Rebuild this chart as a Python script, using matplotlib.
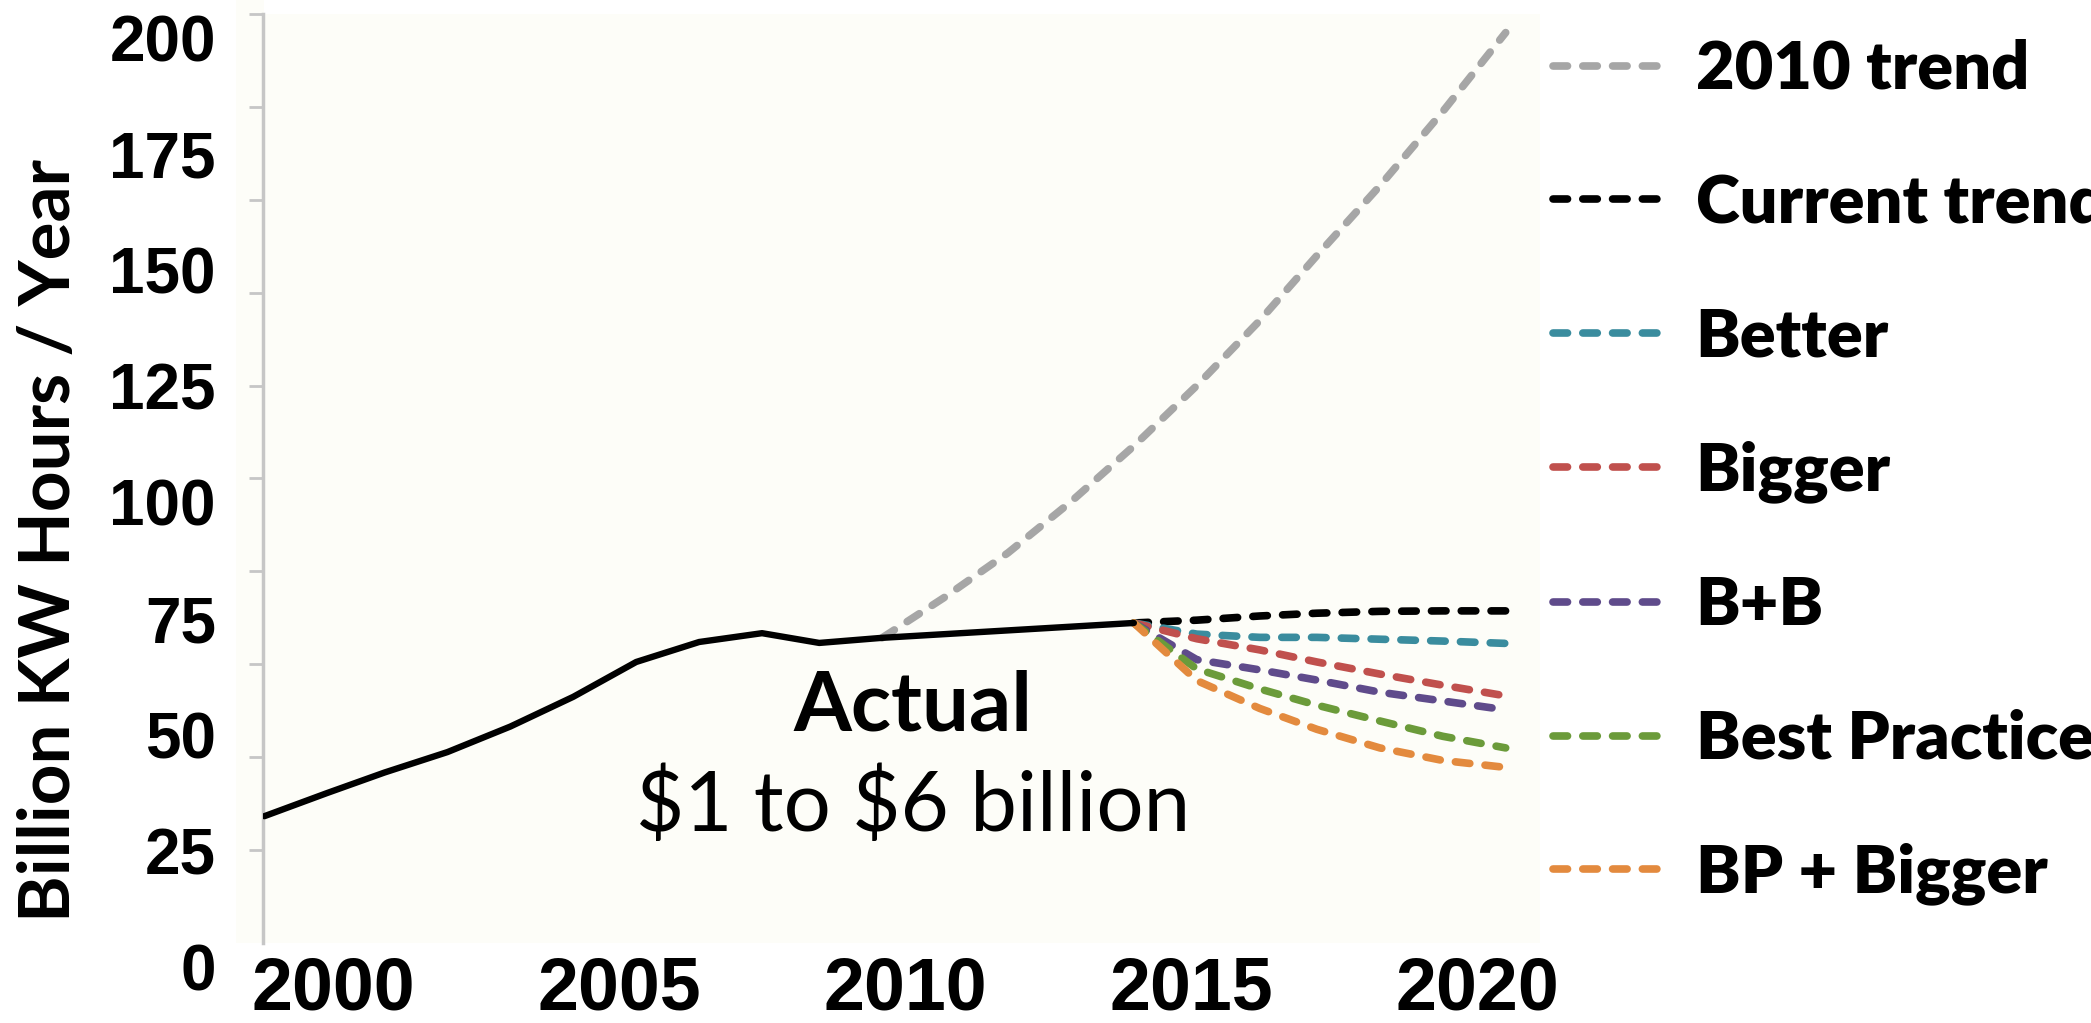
import matplotlib
matplotlib.use('Agg')
import matplotlib.pyplot as plt
import matplotlib.transforms as mtransforms
from matplotlib.patches import Rectangle

# Data center electricity use, billion kWh per year
years_actual = [1998.8, 1999.9, 2000.9, 2002.0, 2003.1, 2004.2, 2005.3, 2006.4,
                2007.5, 2008.5, 2009.6, 2010.7, 2011.8, 2012.9, 2014.0]
actual = [27.3, 32.3, 36.7, 41.1, 46.6, 53.0, 60.5, 64.8,
          66.7, 64.6, 65.7, 66.5, 67.3, 68.1, 68.9]

years_2010 = [2009.6, 2010.7, 2011.8, 2012.9, 2014.0, 2015.1,
              2016.2, 2017.2, 2018.3, 2019.4, 2020.5]
trend_2010 = [65.7, 74.5, 84.0, 95.0, 107.0, 120.0, 134.0, 148.0, 163.0, 179.0, 196.0]

years_future = [2014.0, 2015.1, 2016.2, 2017.2, 2018.3, 2019.4, 2020.5]
current_trend = [68.9, 69.5, 70.4, 71.0, 71.4, 71.5, 71.5]
better = [68.9, 66.5, 65.8, 65.8, 65.4, 65.0, 64.5]
bigger = [68.9, 65.5, 63.1, 60.5, 57.9, 55.5, 53.2]
b_plus_b = [68.9, 61.0, 58.8, 56.6, 54.0, 52.1, 50.2]
best_practices = [68.9, 59.0, 54.7, 51.2, 47.8, 44.5, 42.0]
bp_bigger = [68.9, 56.5, 50.5, 46.0, 42.0, 39.3, 37.8]

scenario_names = ["Current trend", "Better", "Bigger", "B+B", "Best Practices", "BP + Bigger"]
scenario_values = [current_trend, better, bigger, b_plus_b, best_practices, bp_bigger]
scenario_colors = ["#000000", "#3A8C9E", "#C0504D", "#5F4B8B", "#6B9B3A", "#E38A3E"]

x_ticks = [2000, 2005, 2010, 2015, 2020]
y_ticks = [0, 25, 50, 75, 100, 125, 150, 175, 200]
y_marks = [20, 40, 60, 80, 100, 120, 140, 160, 180, 200]

cream = "#FDFDF8"

fig = plt.figure(figsize=(20.91, 10.23), dpi=100)
fig.patch.set_facecolor("white")
ax = fig.add_axes([263 / 2091, 80 / 1023, 1277 / 2091, 929 / 1023])
ax.set_facecolor(cream)
fig.patches.append(Rectangle((236 / 2091, 80 / 1023), 28 / 2091, 943 / 1023,
                             transform=fig.transFigure, facecolor=cream,
                             edgecolor="none", zorder=-1))

dash_kw = dict(lw=5.5, dashes=(1.9, 2.0), dash_capstyle="round")

ax.plot(years_2010, trend_2010, color="#A6A6A6", label="2010 trend", zorder=2, **dash_kw)
for name, vals, col in zip(scenario_names, scenario_values, scenario_colors):
    ax.plot(years_future, vals, color=col, label=name, zorder=3, **dash_kw)
ax.plot(years_actual, actual, color="black", lw=4.6, solid_capstyle="round",
        solid_joinstyle="round", zorder=4)

ax.set_xlim(1998.776, 2021.1)
ax.set_ylim(0, 200)

for side in ["top", "right", "bottom"]:
    ax.spines[side].set_visible(False)
ax.spines["left"].set_color("#C6C6C6")
ax.spines["left"].set_linewidth(2.5)

ax.set_xticks(x_ticks)
ax.set_xticklabels([str(x) for x in x_ticks], fontsize=53, fontweight="bold",
                   family="Liberation Sans")
ax.tick_params(axis="x", length=0, pad=9)

ax.yaxis.remove_overlapping_locs = False
ax.set_yticks(y_ticks)
ax.set_yticklabels([str(y) for y in y_ticks], fontsize=46, fontweight="bold",
                   family="Liberation Sans")
ax.set_yticks(y_marks, minor=True)
ax.tick_params(axis="y", which="major", length=0, pad=34)
ax.tick_params(axis="y", which="minor", length=10, width=2, color="#C6C6C6")

# y labels sit a little below their gridline positions
shift = mtransforms.ScaledTranslation(0, -0.24, fig.dpi_scale_trans)
for lab in ax.get_yticklabels():
    lab.set_transform(lab.get_transform() + shift)

fig.text(50 / 2091, 0.472, "Billion KW Hours / Year", rotation=90, ha="center",
         va="center", fontsize=51, fontweight="bold", family="Lato")

ax.text(2010.14, 50.8, "Actual", ha="center", va="center", fontsize=60,
        fontweight="bold", family="Lato")
ax.text(2010.14, 29.3, r"\$1 to \$6 billion", ha="center", va="center", fontsize=60,
        family="Lato")

leg = ax.legend(loc="upper left", bbox_to_anchor=(1553 / 2091, 0.962),
                bbox_transform=fig.transFigure, frameon=False, borderpad=0,
                borderaxespad=0, handlelength=1.6, handletextpad=0.54,
                labelspacing=1.09, prop=dict(family="Lato", weight="heavy", size=48))

fig.savefig("out.png", dpi=100)
